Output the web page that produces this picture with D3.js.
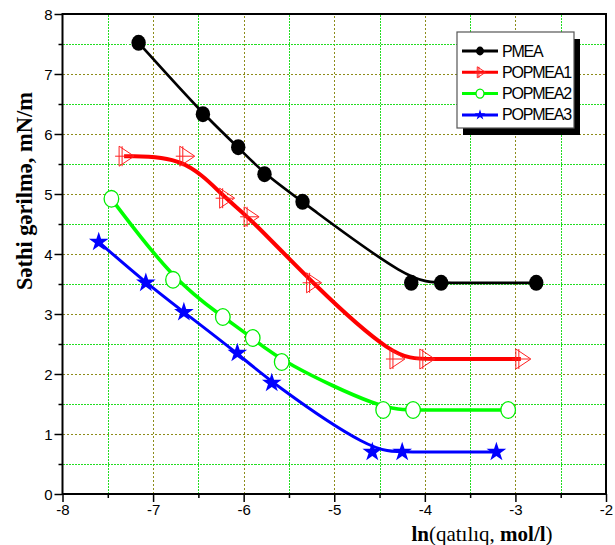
<!DOCTYPE html>
<html lang="en">
<head>
<meta charset="utf-8">
<title>Səthi gərilmə</title>
<style>
  body { margin:0; background:white; }
  svg { display:block; }
  .tick-label { font-family: Arial, 'Liberation Sans', sans-serif; font-size:15px; fill:#000; }
  .legend text { font-family: Arial, 'Liberation Sans', sans-serif; font-size:16px; letter-spacing:-1.2px; }
  .title { font-family: 'Times New Roman', 'Liberation Serif', serif; font-size:21px; fill:#000; }
  .grid line { shape-rendering: crispEdges; }
</style>
</head>
<body>
<div id="chart"></div>
<script src="https://cdnjs.cloudflare.com/ajax/libs/d3/7.8.5/d3.min.js"></script>
<script>
// series data
var names = ["PMEA", "POPMEA1", "POPMEA2", "POPMEA3"];

var pmeaX = [-7.16, -6.45, -6.06, -5.77, -5.35, -4.15, -3.82, -2.77];
var pmeaY = [7.52, 6.33, 5.78, 5.33, 4.87, 3.52, 3.52, 3.52];

var popmea1X = [-7.32, -6.65, -6.21, -5.94, -5.25, -4.33, -4.00, -2.94];
var popmea1Y = [5.63, 5.63, 4.93, 4.62, 3.52, 2.25, 2.25, 2.25];

var popmea2X = [-7.46, -6.78, -6.23, -5.90, -5.58, -4.46, -4.13, -3.08];
var popmea2Y = [4.92, 3.57, 2.95, 2.60, 2.20, 1.40, 1.40, 1.40];

var popmea3X = [-7.60, -7.08, -6.66, -6.07, -5.69, -4.58, -4.25, -3.21];
var popmea3Y = [4.20, 3.52, 3.03, 2.35, 1.85, 0.70, 0.70, 0.70];

var xTicks = [-8, -7, -6, -5, -4, -3, -2];
var yTicks = [0, 1, 2, 3, 4, 5, 6, 7, 8];

var W = 615, H = 545;
var pL = 62.5, pR = 606, pT = 14, pB = 494;

var x = d3.scaleLinear().domain([-8, -2]).range([pL, pR]);
var y = d3.scaleLinear().domain([0, 8]).range([pB, pT]);

var svg = d3.select("#chart").append("svg")
    .attr("width", W)
    .attr("height", H);

// grid: olive dots on whole units, green dots on halves
var gridX = d3.range(-7.5, -2, 0.5);
var gridY = d3.range(0.5, 8, 0.5);
var gridColor = function(d) { return d % 1 === 0 ? "#8c8c1a" : "#22dd22"; };
var gridDash = function(d) { return d % 1 === 0 ? "2,2" : "2,1"; };

var grid = svg.append("g").attr("class", "grid");
grid.selectAll("line.gx")
    .data(gridX)
  .enter().append("line")
    .attr("class", "gx")
    .attr("x1", function(d) { return Math.round(x(d)) + 0.5; })
    .attr("x2", function(d) { return Math.round(x(d)) + 0.5; })
    .attr("y1", y(0)).attr("y2", y(8))
    .attr("stroke", gridColor)
    .attr("stroke-width", 1)
    .attr("stroke-dasharray", gridDash);

grid.selectAll("line.gy")
    .data(gridY)
  .enter().append("line")
    .attr("class", "gy")
    .attr("y1", function(d) { return Math.round(y(d)) + 0.5; })
    .attr("y2", function(d) { return Math.round(y(d)) + 0.5; })
    .attr("x1", x(-8)).attr("x2", x(-2))
    .attr("stroke", gridColor)
    .attr("stroke-width", 1)
    .attr("stroke-dasharray", gridDash);

// axes
var xMinor = d3.range(-7.5, -2, 1);
var yMinor = d3.range(0.5, 8, 1);

var xAxis = svg.append("g")
    .attr("transform", "translate(0," + pB + ")")
    .call(d3.axisBottom(x).tickValues(xTicks).tickSize(8).tickFormat(d3.format("d")));
svg.append("g")
    .attr("transform", "translate(0," + pB + ")")
    .call(d3.axisBottom(x).tickValues(xMinor).tickSize(4).tickFormat(""));
var yAxis = svg.append("g")
    .attr("transform", "translate(" + pL + ",0)")
    .call(d3.axisLeft(y).tickValues(yTicks).tickSize(8).tickFormat(d3.format("d")));
svg.append("g")
    .attr("transform", "translate(" + pL + ",0)")
    .call(d3.axisLeft(y).tickValues(yMinor).tickSize(4).tickFormat(""));

svg.selectAll(".domain").remove();
svg.selectAll(".tick line").attr("stroke", "#000").attr("stroke-width", 1.5);

xAxis.selectAll("text")
    .attr("class", "tick-label")
    .attr("y", 21).attr("dy", null)
    .text(function(d) { return d; });
yAxis.selectAll("text")
    .attr("class", "tick-label")
    .attr("x", -10).attr("dy", "0.36em");

// frame
svg.append("rect")
    .attr("x", pL).attr("y", pT)
    .attr("width", pR - pL).attr("height", pB - pT)
    .attr("fill", "none")
    .attr("stroke", "#000")
    .attr("stroke-width", 2);

// curves (smoothed, like the original's spline)
var line = d3.line()
    .x(function(d) { return x(d[0]); })
    .y(function(d) { return y(d[1]); })
    .curve(d3.curveBasis);

var series = [
  { name: names[0], xs: pmeaX, ys: pmeaY, color: "#000000", width: 2.7 },
  { name: names[1], xs: popmea1X, ys: popmea1Y, color: "#ff0000", width: 4 },
  { name: names[2], xs: popmea2X, ys: popmea2Y, color: "#00ff00", width: 3.6 },
  { name: names[3], xs: popmea3X, ys: popmea3Y, color: "#0000ff", width: 3 }
];

series.forEach(function(s) {
  s.pts = s.xs.map(function(v, i) { return [v, s.ys[i]]; });
  svg.append("path")
    .datum(s.pts)
    .attr("d", line)
    .attr("fill", "none")
    .attr("stroke", s.color)
    .attr("stroke-width", s.width);
});

// markers
function drawMarker(g, kind, k) {
  // k = size factor (1 on the plot, smaller in the legend)
  if (kind === 0) {
    g.append("ellipse").attr("rx", 7.2 * k).attr("ry", 8 * k).attr("fill", "#000");
  } else if (kind === 1) {
    g.append("path")
      .attr("d", "M" + (-5 * k) + "," + (-10 * k) + "L" + (10 * k) + ",0L" + (-5 * k) + "," + (10 * k) + "Z")
      .attr("fill", "none").attr("stroke", "#ff2020").attr("stroke-width", 1);
    g.append("path")
      .attr("d", "M" + (-2 * k) + "," + (-10 * k) + "V" + (10 * k) + "M" + (-9 * k) + ",0H" + (9 * k))
      .attr("fill", "none").attr("stroke", "#ff2020").attr("stroke-width", 1);
  } else if (kind === 2) {
    g.append("ellipse").attr("rx", 7.3 * k).attr("ry", 8.3 * k)
      .attr("fill", "#fff").attr("stroke", "#00ee00").attr("stroke-width", 1.3);
  } else {
    g.append("path")
      .attr("d", d3.symbol().type(d3.symbolStar).size(120 * k * k))
      .attr("fill", "#0000ff");
  }
}

series.forEach(function(s, si) {
  svg.append("g").selectAll("g")
      .data(s.pts)
    .enter().append("g")
      .attr("transform", function(d) { return "translate(" + x(d[0]) + "," + y(d[1]) + ")"; })
      .each(function() { drawMarker(d3.select(this), si, 1); });
});

// legend
var legend = svg.append("g").attr("class", "legend");
legend.append("rect")
    .attr("x", 463).attr("y", 39).attr("width", 117).attr("height", 96)
    .attr("fill", "#000");
legend.append("rect")
    .attr("x", 457).attr("y", 32).attr("width", 117).attr("height", 96)
    .attr("fill", "#fff").attr("stroke", "#555").attr("stroke-width", 1.2);

series.forEach(function(s, i) {
  var ly = 51 + i * 21.3;
  legend.append("line")
    .attr("x1", 462).attr("x2", 498)
    .attr("y1", ly).attr("y2", ly)
    .attr("stroke", s.color).attr("stroke-width", 3);
  var mg = legend.append("g").attr("transform", "translate(480," + ly + ")");
  drawMarker(mg, i, 0.55);
  legend.append("text")
    .attr("x", 502).attr("y", ly + 5.5)
    .text(s.name);
});

// axis titles
var xt = svg.append("text")
    .attr("class", "title")
    .attr("x", 482).attr("y", 541)
    .attr("text-anchor", "middle");
xt.append("tspan").attr("font-weight", "bold").text("ln");
xt.append("tspan").text("(qatılıq, ");
xt.append("tspan").attr("font-weight", "bold").text("mol/l");
xt.append("tspan").text(")");

svg.append("text")
    .attr("class", "title")
    .attr("font-weight", "bold")
    .attr("font-size", "22.5px")
    .style("font-size", "22.5px")
    .attr("text-anchor", "middle")
    .attr("transform", "translate(32,191) rotate(-90)")
    .text("Səthi gərilmə, mN/m");
</script>
</body>
</html>
